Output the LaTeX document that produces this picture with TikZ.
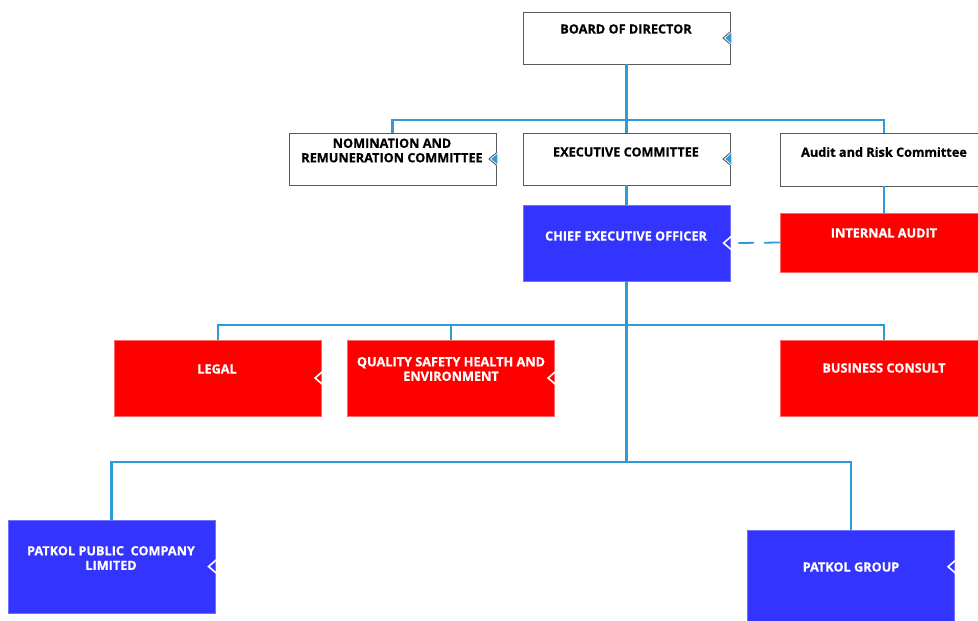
\documentclass[tikz,border=0pt]{standalone}
\usepackage{fontspec}
\setmainfont[BoldFeatures={FakeBold=0.5}]{Open Sans}
\definecolor{connc}{HTML}{2E9BD8}
\definecolor{bluebox}{HTML}{3434FF}
\definecolor{redbox}{HTML}{FF0000}
\definecolor{edgegray}{HTML}{5A5A5A}
\newcommand\whitenotch[1]{%
  \fill[white] #1 ++(0.8,-7) -- ++(-8.3,7) -- ++(8.3,7) -- cycle;
  \fill[connc] #1 ++(0.8,-5.2) -- ++(-6,5.2) -- ++(6,5.2) -- cycle;
  \draw[edgegray, line width=0.9pt] #1 ++(0.5,-6.7) -- ++(-8,6.7) -- ++(8,6.7);}
\newcommand\colornotch[1]{%
  \draw[white, line width=1.6pt] #1 ++(0.8,-6.5) -- ++(-7.5,6.5) -- ++(7.5,6.5);}
\begin{document}
\begin{tikzpicture}[x=1pt, y=-1pt,
  conn/.style={draw=connc, line width=2.2pt},
  basebox/.style={rectangle, inner sep=0pt, minimum width=207},
  wbox/.style={basebox, draw=edgegray, fill=white, line width=0.9pt},
  bbox/.style={basebox, draw=bluebox!70!white, fill=bluebox, line width=0.6pt},
  rbox/.style={basebox, draw=redbox!60!white, fill=redbox, line width=0.6pt},
  btxt/.style={inner sep=0pt, align=center, text=black, font=\fontsize{12.7}{14.5}\selectfont\bfseries},
  wtxt/.style={btxt, text=white}]
\useasboundingbox (0,0) rectangle (978,621);
\clip (0,0) rectangle (978,621);

% boxes
\node[wbox, minimum height=52] (bod) at (626.5,38) {};
\node[wbox, minimum height=52] (nom) at (392.5,159) {};
\node[wbox, minimum height=52] (exec) at (626.5,159) {};
\node[wbox, minimum height=53] (arc) at (884,159.5) {};
\node[bbox, minimum height=76] (ceo) at (626.5,243) {};
\node[rbox, minimum height=59] (ia) at (884,242.5) {};
\node[rbox, minimum height=76] (legal) at (218,378) {};
\node[rbox, minimum height=76] (qshe) at (451,378) {};
\node[rbox, minimum height=76] (bc) at (884,378) {};
\node[bbox, minimum height=93] (ppcl) at (111.5,566.5) {};
\node[bbox, minimum height=100] (pg) at (851,580) {};

% notches
\whitenotch{(bod.east)}
\whitenotch{(nom.east)}
\whitenotch{(exec.east)}
\colornotch{(ceo.east)}
\colornotch{(legal.east)}
\colornotch{(qshe.east)}
\colornotch{(ppcl.east)}
\colornotch{(pg.north east) ++(0,37)}

% texts
\node[btxt] (tbod) at (626,29) {BOARD OF DIRECTOR};
\node[btxt] (tnom) at (392,150.5) {NOMINATION AND\\REMUNERATION COMMITTEE};
\node[btxt] (texec) at (626,152) {EXECUTIVE COMMITTEE};
\node[btxt] (tarc) at (884,152) {Audit and Risk Committee};
\node[wtxt] (tceo) at (626,236) {CHIEF EXECUTIVE OFFICER};
\node[wtxt] (tia) at (884,233) {INTERNAL AUDIT};
\node[wtxt] (tlegal) at (217,369) {LEGAL};
\node[wtxt] (tqshe) at (451,369) {QUALITY SAFETY HEALTH AND\\ENVIRONMENT};
\node[wtxt] (tbc) at (884,368) {BUSINESS CONSULT};
\node[wtxt] (tppcl) at (111,558) {PATKOL PUBLIC\ \ COMPANY\\LIMITED};
\node[wtxt] (tpg) at (851,567) {PATKOL GROUP};

% connectors
\coordinate (j1) at (626.5,120);
\coordinate (j2) at (626.5,325);
\coordinate (j3) at (626.5,462);
\draw[conn] (bod.south) -- (j1) -- (exec.north);
\draw[conn] (nom.north) |- (j1) -| (arc.north);
\draw[conn] (exec.south) -- (ceo.north);
\draw[conn] (arc.south) -- (ia.north);
\draw[conn, line width=1.8pt, dash pattern=on 16pt off 10pt] (ia.west) -- ([xshift=8pt]ceo.east);
\draw[conn] (ceo.south) -- (j2) -- (j3);
\draw[conn] (legal.north) |- (j2) -| (bc.north);
\draw[conn] (j2) -| (qshe.north);
\draw[conn] (ppcl.north) |- (j3) -| (pg.north);
\end{tikzpicture}
\end{document}
